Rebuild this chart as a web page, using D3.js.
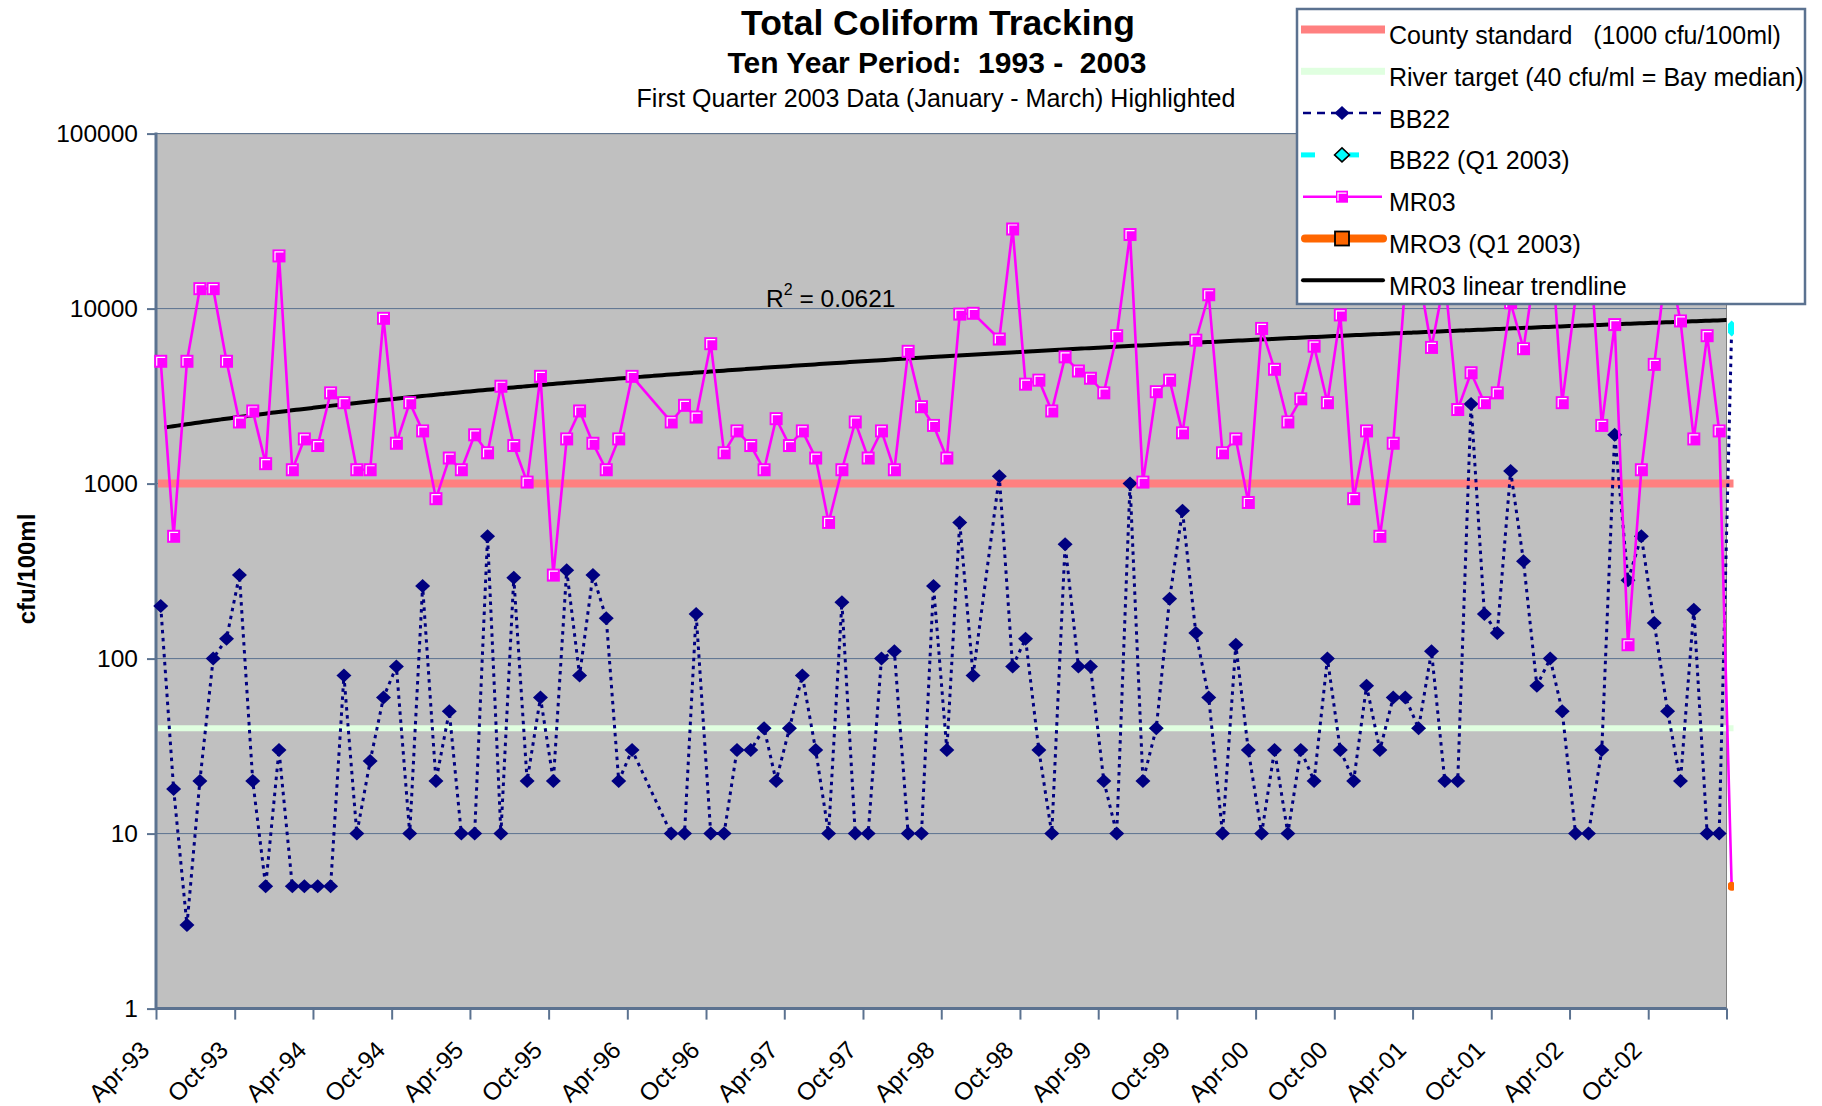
<!DOCTYPE html>
<html>
<head>
<meta charset="utf-8">
<script src="https://cdn.jsdelivr.net/npm/d3@7"></script>
<style>
  html, body { margin: 0; padding: 0; background: #ffffff; }
  svg { display: block; font-family: "Liberation Sans", Arial, sans-serif; }
</style>
</head>
<body>
<div id="chart"></div>
<script>
const sampleDates = [
  '1993-04-12','1993-05-12','1993-06-12','1993-07-12','1993-08-12','1993-09-12','1993-10-12','1993-11-12','1993-12-12',
  '1994-01-12','1994-02-12','1994-03-12','1994-04-12','1994-05-12','1994-06-12','1994-07-12','1994-08-12','1994-09-12','1994-10-12','1994-11-12','1994-12-12',
  '1995-01-12','1995-02-12','1995-03-12','1995-04-12','1995-05-12','1995-06-12','1995-07-12','1995-08-12','1995-09-12','1995-10-12','1995-11-12','1995-12-12',
  '1996-01-12','1996-02-12','1996-03-12','1996-04-12','1996-07-12','1996-08-12','1996-09-08','1996-10-12','1996-11-12','1996-12-12',
  '1997-01-13','1997-02-13','1997-03-13','1997-04-13','1997-05-13','1997-06-13','1997-07-13','1997-08-13','1997-09-13','1997-10-13','1997-11-13','1997-12-13',
  '1998-01-14','1998-02-14','1998-03-14','1998-04-14','1998-05-14','1998-06-14','1998-08-14','1998-09-14','1998-10-14','1998-11-14','1998-12-14',
  '1999-01-14','1999-02-14','1999-03-14','1999-04-14','1999-05-14','1999-06-14','1999-07-14','1999-08-14','1999-09-14','1999-10-14','1999-11-14','1999-12-14',
  '2000-01-15','2000-02-15','2000-03-15','2000-04-15','2000-05-15','2000-06-15','2000-07-15','2000-08-15','2000-09-15','2000-10-15','2000-11-15','2000-12-15',
  '2001-01-15','2001-02-15','2001-03-15','2001-04-15','2001-05-15','2001-06-15','2001-07-15','2001-08-15','2001-09-15','2001-10-15','2001-11-15','2001-12-15',
  '2002-01-15','2002-02-15','2002-03-15','2002-04-15','2002-05-15','2002-06-15','2002-07-15','2002-08-15','2002-09-15','2002-10-15','2002-11-15','2002-12-15',
  '2003-01-15','2003-02-15','2003-03-15','2003-04-13'
];

// BB22 total coliform (cfu/100ml)
const bb22 = [
  200, 18, 3, 20, 100, 130, 300, 20, 5,
  30, 5, 5, 5, 5, 80, 10, 26, 60, 90, 10, 260,
  20, 50, 10, 10, 500, 10, 290, 20, 60, 20, 320, 80,
  300, 170, 20, 30, 10, 10, 180, 10, 10, 30,
  30, 40, 20, 40, 80, 30, 10, 210, 10, 10, 100, 110,
  10, 10, 260, 30, 600, 80, 1100, 90, 130, 30, 10,
  450, 90, 90, 20, 10, 1000, 20, 40, 220, 700, 140, 60,
  10, 120, 30, 10, 30, 10, 30, 20, 100, 30, 20, 70,
  30, 60, 60, 40, 110, 20, 20, 2850, 180, 140, 1180, 360,
  70, 100, 50, 10, 10, 30, 1900, 280, 500, 160, 50, 20,
  190, 10, 10, 7700
];

// MR03 total coliform (cfu/100ml); values above the legend box are hidden in the source
const mr03 = [
  5000, 500, 5000, 13000, 13000, 5000, 2250, 2600, 1300,
  20000, 1200, 1800, 1650, 3300, 2900, 1200, 1200, 8800, 1700, 2900, 2000,
  820, 1400, 1200, 1900, 1500, 3600, 1650, 1020, 4100, 300, 1800, 2600,
  1700, 1200, 1800, 4100, 2250, 2800, 2400, 6300, 1500, 2000,
  1650, 1200, 2350, 1650, 2000, 1400, 600, 1200, 2250, 1400, 2000, 1200,
  5700, 2750, 2150, 1400, 9300, 9400, 6700, 28500, 3700, 3900, 2600,
  5300, 4400, 4000, 3300, 7000, 26500, 1020, 3350, 3900, 1950, 6600, 12000,
  1500, 1800, 780, 7700, 4500, 2250, 3050, 6100, 2900, 9200, 820, 2000,
  500, 1700, 14000, 16000, 6000, 15000, 2650, 4300, 2900, 3300, 10800, 5900,
  20000, 30000, 2900, 11500, 30000, 2150, 8100, 120, 1200, 4800, 20000, 8500,
  1800, 7000, 2000, 5
];

// First quarter 2003 highlight points (sit just past the axis end)
const q1Dates = ['2003-04-13'];
const bb22Q1 = [7700];
const mr03Q1 = [5];

// Linear trendline of MR03 (end values), R^2 label
const trendDates = ['1993-04-12', '2003-04-13'];
const trendValues = [2075, 8620];
const trendR2 = '0.0621';

// Reference levels
const countyStandard = 1000;
const riverTarget = 40;

const yTicks = [1, 10, 100, 1000, 10000, 100000];

const legendItems = [
  'County standard   (1000 cfu/100ml)',
  'River target (40 cfu/ml = Bay median)',
  'BB22',
  'BB22 (Q1 2003)',
  'MR03',
  'MRO3 (Q1 2003)',
  'MR03 linear trendline'
];

function drawChart() {
  const W = 1822, H = 1106;
  const plot = { left: 156, right: 1726.5, top: 133.6, bottom: 1008.6 };
  const axisColor = '#5b7290';
  const parse = d3.utcParse('%Y-%m-%d');

  const svg = d3.select('#chart').append('svg')
    .attr('width', W).attr('height', H);

  const x = d3.scaleUtc()
    .domain([new Date(Date.UTC(1993, 3, 1)), new Date(Date.UTC(2003, 3, 1))])
    .range([plot.left, plot.right]);
  const y = d3.scaleLog().domain([1, 100000]).range([plot.bottom, plot.top]);

  // Titles
  svg.append('text').attr('x', 938).attr('y', 35)
    .attr('text-anchor', 'middle').attr('font-size', '35.5px').attr('font-weight', 'bold')
    .text('Total Coliform Tracking');
  svg.append('text').attr('x', 937).attr('y', 73)
    .attr('text-anchor', 'middle').attr('font-size', '30px').attr('font-weight', 'bold')
    .style('white-space', 'pre')
    .text('Ten Year Period:  1993 -  2003');
  svg.append('text').attr('x', 936).attr('y', 107)
    .attr('text-anchor', 'middle').attr('font-size', '25px')
    .text('First Quarter 2003 Data (January - March) Highlighted');

  // Plot area
  svg.append('rect')
    .attr('x', plot.left).attr('y', plot.top)
    .attr('width', plot.right - plot.left).attr('height', plot.bottom - plot.top)
    .attr('fill', '#c0c0c0').attr('stroke', '#808080').attr('stroke-width', 1);

  // Gridlines
  svg.append('g').selectAll('line').data(yTicks.slice(1)).join('line')
    .attr('x1', plot.left).attr('x2', plot.right)
    .attr('y1', d => y(d)).attr('y2', d => y(d))
    .attr('stroke', axisColor).attr('stroke-width', 1);

  // Y axis
  const yAxis = svg.append('g')
    .attr('transform', `translate(${plot.left},0)`)
    .call(d3.axisLeft(y).tickValues(yTicks).tickFormat(d3.format('d')).tickSize(9).tickPadding(9));
  yAxis.select('.domain').attr('stroke', axisColor).attr('stroke-width', 3)
    .attr('d', `M0,${plot.top - 1}V${plot.bottom + 1}`);
  yAxis.selectAll('.tick line').attr('stroke', axisColor).attr('stroke-width', 2);
  yAxis.selectAll('.tick text').attr('font-size', '24.5px').attr('fill', '#000')
    .attr('font-family', '"Liberation Sans", Arial, sans-serif');

  svg.append('text')
    .attr('transform', 'translate(35,569) rotate(-90)')
    .attr('text-anchor', 'middle').attr('font-size', '24px').attr('font-weight', 'bold')
    .text('cfu/100ml');

  // X axis: ticks every six months from Apr-93
  const xTickDates = d3.utcMonth.range(x.domain()[0], d3.utcDay.offset(x.domain()[1], 1), 6);
  const fmt = d3.utcFormat('%b-%y');
  const xAxis = svg.append('g')
    .attr('transform', `translate(0,${plot.bottom})`)
    .call(d3.axisBottom(x).tickValues(xTickDates).tickSize(11).tickFormat(''));
  xAxis.select('.domain').attr('stroke', axisColor).attr('stroke-width', 3)
    .attr('d', `M${plot.left},0H${plot.right}`);
  xAxis.selectAll('.tick line').attr('stroke', axisColor).attr('stroke-width', 2);

  svg.append('g').selectAll('text')
    .data(xTickDates.slice(0, -1)).join('text')
    .attr('transform', d => `translate(${x(d) - 5},${plot.bottom + 43}) rotate(-45)`)
    .attr('text-anchor', 'end').attr('font-size', '24.5px')
    .text(d => fmt(d));

  // Reference lines
  const refX1 = plot.left + 2, refX2 = plot.right + 7;
  svg.append('line')
    .attr('x1', refX1).attr('x2', refX2)
    .attr('y1', y(countyStandard)).attr('y2', y(countyStandard))
    .attr('stroke', '#ff8080').attr('stroke-width', 8);
  svg.append('line')
    .attr('x1', refX1).attr('x2', refX2)
    .attr('y1', y(riverTarget)).attr('y2', y(riverTarget))
    .attr('stroke', '#e0ffe0').attr('stroke-width', 6);

  const dates = sampleDates.map(parse);
  const bbData = dates.map((d, i) => ({ d, v: bb22[i] }));
  const mrData = dates.map((d, i) => ({ d, v: mr03[i] }));
  const inAxis = p => p.d <= x.domain()[1];

  const line = d3.line().x(p => x(p.d)).y(p => y(p.v));

  // BB22 series
  svg.append('path').datum(bbData)
    .attr('fill', 'none').attr('stroke', '#000080').attr('stroke-width', 3)
    .attr('stroke-dasharray', '3.5,4.5').attr('d', line);
  svg.append('g').selectAll('path')
    .data(bbData.filter(inAxis)).join('path')
    .attr('transform', p => `translate(${x(p.d)},${y(p.v)})`)
    .attr('d', 'M0,-7L7.5,0L0,7L-7.5,0Z')
    .attr('fill', '#000080');

  // Clips: Q1 highlight marks sit just past the plot edge; trendline stays inside
  svg.append('clipPath').attr('id', 'edge-clip')
    .append('rect').attr('x', plot.right + 1.5).attr('y', 0).attr('width', 6).attr('height', H);
  svg.append('clipPath').attr('id', 'plot-clip')
    .append('rect').attr('x', plot.left).attr('y', plot.top)
    .attr('width', plot.right - plot.left).attr('height', plot.bottom - plot.top);

  const q1 = q1Dates.map(parse);
  svg.append('g').attr('clip-path', 'url(#edge-clip)').selectAll('path')
    .data(q1.map((d, i) => ({ d, v: bb22Q1[i] }))).join('path')
    .attr('transform', p => `translate(${x(p.d)},${y(p.v)})`)
    .attr('d', 'M0,-8L8,0L0,8L-8,0Z')
    .attr('fill', '#00ffff');

  // MR03 linear trendline (linear in value, so curved on the log axis)
  const t0 = parse(trendDates[0]), t1 = parse(trendDates[1]);
  const tScale = d3.scaleUtc().domain([t0, t1]).range(trendValues);
  const trendPts = d3.utcDay.every(10).range(t0, t1).concat([t1]).map(d => ({ d, v: tScale(d) }));
  svg.append('path').datum(trendPts)
    .attr('clip-path', 'url(#plot-clip)')
    .attr('fill', 'none').attr('stroke', '#000').attr('stroke-width', 4)
    .attr('d', line);

  // MR03 series
  svg.append('path').datum(mrData)
    .attr('fill', 'none').attr('stroke', '#ff00ff').attr('stroke-width', 2.6)
    .attr('d', line);
  const sq = svg.append('g').selectAll('g')
    .data(mrData.filter(inAxis)).join('g')
    .attr('transform', p => `translate(${x(p.d)},${y(p.v)})`);
  sq.append('rect').attr('x', -6.5).attr('y', -6.5).attr('width', 13).attr('height', 13)
    .attr('fill', '#ff00ff');
  sq.append('path').attr('d', 'M-4,4.5V-4H4.5')
    .attr('fill', 'none').attr('stroke', '#ffffff').attr('stroke-width', 1.2);

  svg.append('g').attr('clip-path', 'url(#edge-clip)').selectAll('circle')
    .data(q1.map((d, i) => ({ d, v: mr03Q1[i] }))).join('circle')
    .attr('cx', p => x(p.d)).attr('cy', p => y(p.v)).attr('r', 4.5)
    .attr('fill', '#ff6600');

  // R^2 label
  const r2 = svg.append('text').attr('x', 766).attr('y', 307).attr('font-size', '24.5px');
  r2.append('tspan').text('R');
  r2.append('tspan').attr('font-size', '16px').attr('dy', -12).text('2');
  r2.append('tspan').attr('dy', 12).text(' = ' + trendR2);

  // Legend
  const lg = svg.append('g');
  lg.append('rect').attr('x', 1297).attr('y', 9).attr('width', 508).attr('height', 295)
    .attr('fill', '#ffffff').attr('stroke', axisColor).attr('stroke-width', 2.5);
  const rowY = i => 35 + i * 41.8;
  const symY = i => rowY(i) - 5.5;
  const sx1 = 1301, sx2 = 1385, mx = 1342;

  lg.selectAll('text').data(legendItems).join('text')
    .attr('x', 1389).attr('y', (d, i) => rowY(i))
    .attr('dominant-baseline', 'central').attr('font-size', '25px')
    .style('white-space', 'pre').text(d => d);

  lg.append('rect').attr('x', sx1).attr('y', symY(0) - 4).attr('width', sx2 - sx1).attr('height', 8)
    .attr('fill', '#ff8080');
  lg.append('rect').attr('x', sx1).attr('y', symY(1) - 3.5).attr('width', sx2 - sx1).attr('height', 7)
    .attr('fill', '#e0ffe0');

  lg.append('line').attr('x1', sx1 + 2).attr('x2', sx2).attr('y1', symY(2)).attr('y2', symY(2))
    .attr('stroke', '#000080').attr('stroke-width', 2.5).attr('stroke-dasharray', '8,6');
  lg.append('path').attr('transform', `translate(${mx},${symY(2)})`)
    .attr('d', 'M0,-7L7.5,0L0,7L-7.5,0Z').attr('fill', '#000080');

  lg.append('rect').attr('x', sx1).attr('y', symY(3) - 2.5).attr('width', 14).attr('height', 5).attr('fill', '#00ffff');
  lg.append('rect').attr('x', 1349).attr('y', symY(3) - 2.5).attr('width', 10).attr('height', 5).attr('fill', '#00ffff');
  lg.append('path').attr('transform', `translate(${mx},${symY(3)})`)
    .attr('d', 'M0,-7L7.5,0L0,7L-7.5,0Z').attr('fill', '#00ffff').attr('stroke', '#000').attr('stroke-width', 1.5);

  lg.append('line').attr('x1', sx1 + 2).attr('x2', sx2 - 3).attr('y1', symY(4)).attr('y2', symY(4))
    .attr('stroke', '#ff00ff').attr('stroke-width', 2.5);
  lg.append('rect').attr('x', mx - 6).attr('y', symY(4) - 6).attr('width', 12).attr('height', 12).attr('fill', '#ff00ff');
  lg.append('path').attr('transform', `translate(${mx},${symY(4)})`).attr('d', 'M-4,4V-3.5H4.5')
    .attr('fill', 'none').attr('stroke', '#fff').attr('stroke-width', 1.2);

  lg.append('line').attr('x1', sx1 + 4).attr('x2', sx2 - 2).attr('y1', symY(5)).attr('y2', symY(5))
    .attr('stroke', '#ff6600').attr('stroke-width', 8).attr('stroke-linecap', 'round');
  lg.append('rect').attr('x', mx - 7).attr('y', symY(5) - 7).attr('width', 14).attr('height', 14)
    .attr('fill', '#ff6600').attr('stroke', '#000').attr('stroke-width', 1.8);

  lg.append('line').attr('x1', sx1 + 2).attr('x2', sx2 - 2).attr('y1', symY(6)).attr('y2', symY(6))
    .attr('stroke', '#000').attr('stroke-width', 4).attr('stroke-linecap', 'round');
}

drawChart();
</script>
</body>
</html>
